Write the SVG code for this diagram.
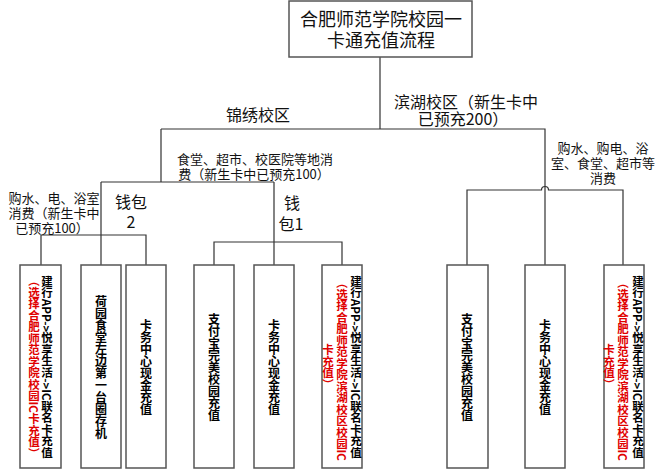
<svg xmlns="http://www.w3.org/2000/svg" width="664" height="470" viewBox="0 0 664 470">
<style>
.box{fill:#fff;stroke:#555;stroke-width:1.5}
.ln{fill:none;stroke:#333;stroke-width:1.2}
.lbl{font-family:"Noto Sans CJK SC","Liberation Sans",sans-serif;fill:#111;text-anchor:middle}
.v{font-family:"Noto Sans CJK SC","Liberation Sans",sans-serif;font-size:12px;font-weight:bold;fill:#000;text-anchor:middle;writing-mode:vertical-rl}
.s{font-size:11.5px}
.r{fill:#e00000}
</style>
<rect width="664" height="470" fill="#fff"/>
<g id="connectors">
<path class="ln" d="M380,57 V129 M161,129 H545 V265"/>
<path class="ln" d="M467,265 V190 H541.5 A3.5,3.5 0 0 1 548.5,190 H623 V265"/>
<path class="ln" d="M161,129 V182 M101,182 H274 M101,182 V265 M41,265 V235 H146 V265"/>
<path class="ln" d="M274,182 V265 M214,265 V242 H342 V265"/>
</g>
<g id="title">
<rect class="box" x="289" y="1" width="183" height="56"/>
<text class="lbl" x="381" y="26" font-size="18">合肥师范学院校园一</text>
<text class="lbl" x="381" y="47" font-size="18">卡通充值流程</text>
</g>
<g id="label-jinxiu">
<text class="lbl" x="258" y="121" font-size="16">锦绣校区</text>
</g>
<g id="label-binhu">
<text class="lbl" x="466" y="108" font-size="16">滨湖校区（新生卡中</text>
<text class="lbl" x="463" y="125" font-size="16">已预充200）</text>
</g>
<g id="label-canteen">
<text class="lbl" x="255" y="164" font-size="13">食堂、超市、校医院等地消</text>
<text class="lbl" x="254" y="179" font-size="13">费（新生卡中已预充100）</text>
</g>
<g id="label-water-left">
<text class="lbl" x="54" y="203" font-size="13">购水、电、浴室</text>
<text class="lbl" x="54" y="218" font-size="13">消费（新生卡中</text>
<text class="lbl" x="52" y="233" font-size="13">已预充100）</text>
</g>
<g id="label-wallet2">
<text class="lbl" x="131" y="208" font-size="16">钱包</text>
<text class="lbl" x="131" y="228" font-size="16">2</text>
</g>
<g id="label-wallet1">
<text class="lbl" x="292" y="209" font-size="16">钱</text>
<text class="lbl" x="291" y="230" font-size="16">包1</text>
</g>
<g id="label-water-right">
<text class="lbl" x="603" y="153" font-size="13">购水、购电、浴</text>
<text class="lbl" x="603" y="168" font-size="13">室、食堂、超市等</text>
<text class="lbl" x="603" y="183" font-size="13">消费</text>
</g>
<g id="box1">
<rect class="box" x="20" y="265" width="41" height="203"/>
<text class="v s" x="47" y="367">建行APP-&gt;悦享生活-&gt;IC联名卡充值</text>
<text class="v s r" x="34" y="367">（选择合肥师范学院校园IC卡充值）</text>
</g>
<g id="box2">
<rect class="box" x="81" y="265" width="40" height="203"/>
<text class="v" x="101" y="367">荷园食堂左边第一台圈存机</text>
</g>
<g id="box3">
<rect class="box" x="126" y="265" width="40" height="203"/>
<text class="v" x="146" y="367">卡务中心现金充值</text>
</g>
<g id="box4">
<rect class="box" x="194" y="265" width="40" height="203"/>
<text class="v" x="214" y="367">支付宝完美校园充值</text>
</g>
<g id="box5">
<rect class="box" x="254" y="265" width="40" height="203"/>
<text class="v" x="274" y="367">卡务中心现金充值</text>
</g>
<g id="box6">
<rect class="box" x="322" y="265" width="40" height="203"/>
<text class="v s" x="356" y="367">建行APP-&gt;悦享生活-&gt;IC联名卡充值</text>
<text class="v s r" x="342" y="369">（选择合肥师范学院滨湖校区校园IC</text>
<text class="v s r" x="328" y="367">卡充值）</text>
</g>
<g id="box7">
<rect class="box" x="447" y="265" width="41" height="203"/>
<text class="v" x="467" y="367">支付宝完美校园充值</text>
</g>
<g id="box8">
<rect class="box" x="525" y="265" width="40" height="203"/>
<text class="v" x="545" y="367">卡务中心现金充值</text>
</g>
<g id="box9">
<rect class="box" x="604" y="265" width="40" height="203"/>
<text class="v s" x="638" y="367">建行APP-&gt;悦享生活-&gt;IC联名卡充值</text>
<text class="v s r" x="623" y="369">（选择合肥师范学院滨湖校区校园IC</text>
<text class="v s r" x="609" y="367">卡充值）</text>
</g>
</svg>
